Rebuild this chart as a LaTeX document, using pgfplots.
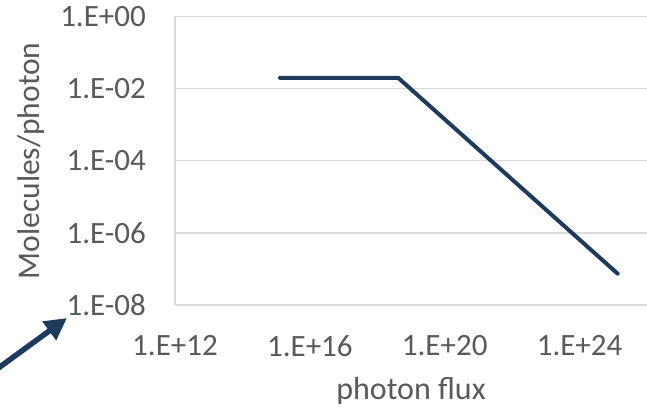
\documentclass[border=0pt]{standalone}
\usepackage{pgfplots}
\pgfplotsset{compat=1.18}
\usepackage{fontspec}
\setmainfont{Carlito}
\usetikzlibrary{arrows.meta}
\definecolor{linecol}{HTML}{1F3A5C}
\definecolor{gridcol}{HTML}{D9D9D9}
\definecolor{txtcol}{HTML}{595959}
\begin{document}
\begin{tikzpicture}
\path[use as bounding box] (-175pt,-103pt) rectangle (472pt,305pt);
\begin{loglogaxis}[
  at={(0pt,0pt)}, anchor=south west,
  scale only axis, width=472pt, height=288.3pt,
  xmin=1e12, xmax=1e26, ymin=1e-8, ymax=1,
  xtick={1e12,1e16,1e20,1e24},
  xticklabels={1.E+12,1.E+16,1.E+20,1.E+24},
  ytick={1e-8,1e-6,1e-4,1e-2,1},
  yticklabels={1.E-08,1.E-06,1.E-04,1.E-02,1.E+00},
  minor tick num=0, minor xtick={}, minor ytick={},
  major tick length=0pt,
  axis x line*=bottom, axis y line*=left,
  axis line style={draw=gridcol, line width=1.2pt, -},
  ymajorgrids, grid style={draw=gridcol, line width=1.2pt},
  tick label style={font=\fontsize{31}{33}\selectfont, text=txtcol, inner sep=0pt},
  xticklabel style={anchor=north, yshift=-30pt},
  yticklabel style={anchor=east, xshift=-29pt},
  xlabel={photon flux}, ylabel={Molecules/photon},
  every axis x label/.style={at={(axis description cs:0.5,-0.298)}, anchor=center, font=\fontsize{32}{34}\selectfont, text=txtcol, inner sep=0pt},
  every axis y label/.style={at={(axis description cs:-0.305,0.5)}, anchor=center, rotate=90, font=\fontsize{31.5}{33}\selectfont, text=txtcol, inner sep=0pt},
  clip=false,
]
\addplot[linecol, line width=4pt, line cap=round, line join=miter] coordinates {
  (1.3e15, 0.02)
  (4.2e18, 0.02)
  (1.35e25, 7.4e-8)
};
\end{loglogaxis}
\draw[linecol, line width=5.5pt, -{Triangle[length=22pt,width=22pt]}] (-178pt,-64pt) -- (-108pt,-13pt);
\end{tikzpicture}
\end{document}
